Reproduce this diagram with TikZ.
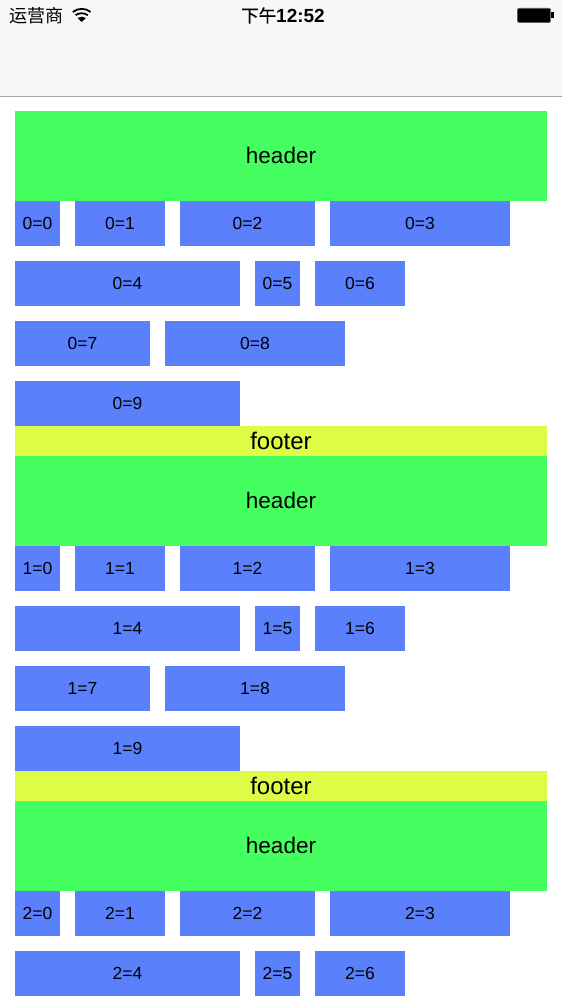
\documentclass[tikz,border=0pt]{standalone}
\usepackage{fontspec}
\setmainfont{Liberation Sans}
\newfontfamily\cjk{Noto Sans CJK SC}
\newfontfamily\cjkm[FakeBold=0.3]{Noto Sans CJK SC}
\definecolor{hdrgreen}{HTML}{45FF60}
\definecolor{ftryellow}{HTML}{DEFC45}
\definecolor{cellblue}{HTML}{5A80FB}
\definecolor{barbg}{HTML}{F7F7F7}
\definecolor{barline}{HTML}{A6A6A6}
\tikzset{
 block/.style={anchor=north west,inner sep=0pt,outer sep=0pt,text=black},
 hdrbox/.style={block,fill=hdrgreen,minimum width=532pt,minimum height=90pt,font=\fontsize{22.5}{24}\selectfont},
 ftrbox/.style={block,fill=ftryellow,minimum width=532pt,minimum height=30pt,font=\fontsize{24}{26}\selectfont},
 cellbox/.style={block,fill=cellblue,minimum height=45pt,font=\fontsize{17.5}{18}\selectfont},
 status/.style={inner sep=0pt,text=black}
}
\newcommand{\cellat}[5]{\node[cellbox,minimum width=#4pt] (c#5) at (#2,#3) {#1};}
\newcommand{\firstrows}[2]{%
 \node[hdrbox] (h#1) at (15,#2) {\raisebox{.7pt}{header}};
 \pgfmathsetmacro{\ya}{#2+90}\pgfmathsetmacro{\yb}{#2+150}
 \cellat{#1=0}{15}{\ya}{45}{#10}
 \cellat{#1=1}{75}{\ya}{90}{#11}
 \cellat{#1=2}{180}{\ya}{135}{#12}
 \cellat{#1=3}{330}{\ya}{180}{#13}
 \cellat{#1=4}{15}{\yb}{225}{#14}
 \cellat{#1=5}{255}{\yb}{45}{#15}
 \cellat{#1=6}{315}{\yb}{90}{#16}
}
\newcommand{\lastrows}[2]{%
 \pgfmathsetmacro{\yc}{#2+210}\pgfmathsetmacro{\yd}{#2+270}\pgfmathsetmacro{\ye}{#2+315}
 \cellat{#1=7}{15}{\yc}{135}{#17}
 \cellat{#1=8}{165}{\yc}{180}{#18}
 \cellat{#1=9}{15}{\yd}{225}{#19}
 \node[ftrbox] (f#1) at (15,\ye) {footer};
}
\begin{document}
\begin{tikzpicture}[x=1pt,y=-1pt]
\useasboundingbox (0,0) rectangle (562,1000);
\fill[barbg] (0,0) rectangle (562,96);
\draw[barline,line width=1pt] (0,96.5) -- (562,96.5);
\node[status,anchor=west,font=\cjk\fontsize{18}{18}\selectfont] (carrier) at (9.5,16) {运营商};
\node[status,anchor=center] (clock) at (283,15.5) {{\cjkm\fontsize{17.5}{18}\selectfont 下午}{\bfseries\fontsize{19}{20}\selectfont 12:52}};
% wifi
\fill (81.7,22) -- (77.6,18) .. controls (80,16.2) and (83.4,16.2) .. (85.8,18) -- cycle;
\draw[line width=1.8pt] (75.6,15.2) .. controls (79,12.6) and (84.4,12.6) .. (87.8,15.2);
\draw[line width=1.8pt] (72.8,12) .. controls (78,7.8) and (85.4,7.8) .. (90.6,12);
% battery
\fill[black,rounded corners=1.5pt] (517.6,8.4) rectangle (550.4,22.4);
\draw[black!65,line width=.7pt,rounded corners=2pt] (517.4,8.2) rectangle (550.6,22.6);
\fill[black] (551.2,12.5) rectangle (554,18);
\firstrows{0}{111}\lastrows{0}{111}
\firstrows{1}{456}\lastrows{1}{456}
\firstrows{2}{801}
\end{tikzpicture}
\end{document}
